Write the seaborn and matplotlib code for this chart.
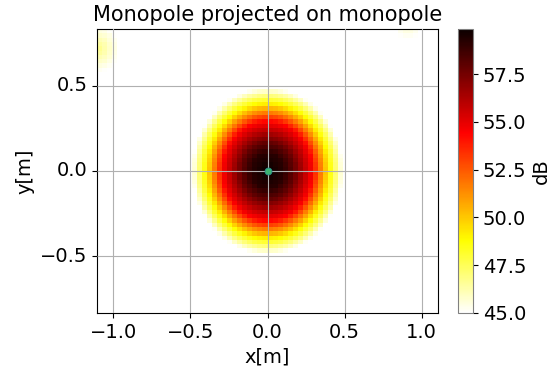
import numpy as np
import matplotlib
matplotlib.use("Agg")
import matplotlib.pyplot as plt
import seaborn as sns

# ---- data ----
x_range = [-1.107, 1.107]
y_range = [-0.835, 0.835]
n_cells_x = 68
n_cells_y = 66

# main lobe: level (dB) versus distance from the source (m)
lobe_radius = [0.0, 0.10, 0.17, 0.29, 0.34, 0.40, 0.445, 0.488, 0.53]
lobe_level = [59.86, 59.2, 57.8, 54.4, 51.8, 48.8, 46.9, 45.0, 40.0]

# faint side spots near the top corners
spot_x = [-1.10, 0.91]
spot_y = [0.72, 0.86]
spot_peak = [46.8, 45.8]
spot_size = [0.14, 0.09]

source_x = [0.0]
source_y = [0.0]

x_ticks = [-1.0, -0.5, 0.0, 0.5, 1.0]
y_ticks = [-0.5, 0.0, 0.5]
v_min, v_max = 45.0, 59.86

# ---- build the field ----
dx = (x_range[1] - x_range[0]) / n_cells_x
dy = (y_range[1] - y_range[0]) / n_cells_y
xc = x_range[0] + dx * (np.arange(n_cells_x) + 0.5)
yc = y_range[1] - dy * (np.arange(n_cells_y) + 0.5)  # top row first
X, Y = np.meshgrid(xc, yc)
R = np.hypot(X - source_x[0], Y - source_y[0])
field = np.interp(R, lobe_radius, lobe_level)
for sx, sy, sp, ss in zip(spot_x, spot_y, spot_peak, spot_size):
    d = np.hypot(X - sx, Y - sy)
    field = np.maximum(field, np.interp(d, [0.0, ss, ss * 1.3], [sp, 45.0, 40.0]))

# ---- draw ----
fs = 14
fig = plt.figure(figsize=(5.54, 3.67), dpi=100)
ax = fig.add_axes([97 / 554, 1 - 313 / 367, (438 - 97) / 554, (313 - 29) / 367])
cax = fig.add_axes([458 / 554, 1 - 313 / 367, 15 / 554, (313 - 29) / 367])

sns.heatmap(field, ax=ax, cbar_ax=cax, cmap="hot_r", vmin=v_min, vmax=v_max,
            xticklabels=False, yticklabels=False, cbar_kws={"label": "dB"})

def to_ix(v):
    return (v - x_range[0]) / dx

def to_iy(v):
    return (y_range[1] - v) / dy

def fmt(v):
    return f"{v:.1f}".replace("-", "\u2212")

ax.set_xticks([to_ix(v) for v in x_ticks])
ax.set_xticklabels([fmt(v) for v in x_ticks], fontsize=fs, rotation=0)
ax.set_yticks([to_iy(v) for v in y_ticks])
ax.set_yticklabels([fmt(v) for v in y_ticks], fontsize=fs, rotation=0, va="center")
ax.tick_params(axis="both", which="both", length=3.5, width=0.8, direction="out",
               bottom=True, left=True)
ax.grid(True, color="#b0b0b0", linewidth=0.8)
ax.set_axisbelow(False)
for s in ax.spines.values():
    s.set_visible(True)
    s.set_linewidth(0.8)
    s.set_color("black")

sns.scatterplot(x=[to_ix(v) for v in source_x], y=[to_iy(v) for v in source_y],
                ax=ax, color="#3cb371", s=25, edgecolor="#2a8a8a", linewidth=0.6, zorder=5)

ax.set_xlabel("x[m]", fontsize=fs)
ax.set_ylabel("y[m]", fontsize=fs)
ax.set_title("Monopole projected on monopole", fontsize=15)

cb = ax.collections[0].colorbar
cb.outline.set_visible(True)
cb.outline.set_linewidth(0.8)
cb.outline.set_edgecolor("#808080")
cb.ax.tick_params(labelsize=fs, length=3.5, width=0.8)
cb.set_label("dB", fontsize=fs)
cb.set_ticks([45.0, 47.5, 50.0, 52.5, 55.0, 57.5])
cb.set_ticklabels(["45.0", "47.5", "50.0", "52.5", "55.0", "57.5"])

fig.savefig("out.png", dpi=100)
